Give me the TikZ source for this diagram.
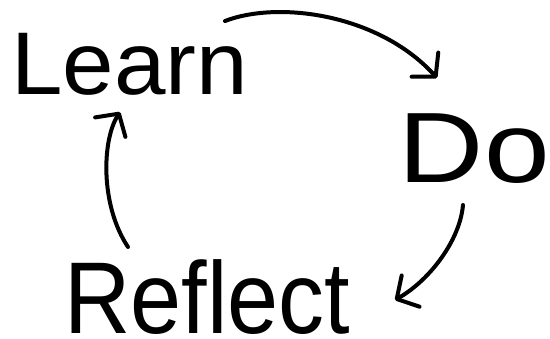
\documentclass[tikz,border=0pt]{standalone}
\usepackage{fontspec}
\setmainfont{Liberation Sans}
\usetikzlibrary{arrows.meta}
\begin{document}
\begin{tikzpicture}[x=1pt,y=-1pt,
  word/.style={anchor=base west, inner sep=0pt, text=black},
  cyc/.style={line width=4pt, line cap=round, line join=round,
    -{Straight Barb[length=16pt,width=36pt,line width=4pt,round]}}]
\useasboundingbox[fill=white] (0,0) rectangle (550,339);
\node[word, xscale=1.04, font=\fontsize{89}{89}\selectfont] (learn) at (11.2,94.5) {Learn};
\node[word, xscale=1.18, font=\fontsize{100}{100}\selectfont] (do) at (398.7,183) {Do};
\node[word, xscale=0.9, font=\fontsize{102}{102}\selectfont] (reflect) at (64.5,334) {Reflect};
\coordinate (l-out) at (225,21);
\coordinate (d-in) at (437,78);
\coordinate (d-out) at (463,205);
\coordinate (r-in) at (395,300);
\coordinate (r-out) at (128,247);
\coordinate (l-in) at (120,112);
\draw[cyc] (l-out) .. controls (280,0) and (380,15) .. (d-in);
\draw[cyc] (d-out) .. controls (460,240) and (430,280) .. (r-in);
\draw[cyc] (r-out) .. controls (100,205) and (102,140) .. (l-in);
\end{tikzpicture}
\end{document}
